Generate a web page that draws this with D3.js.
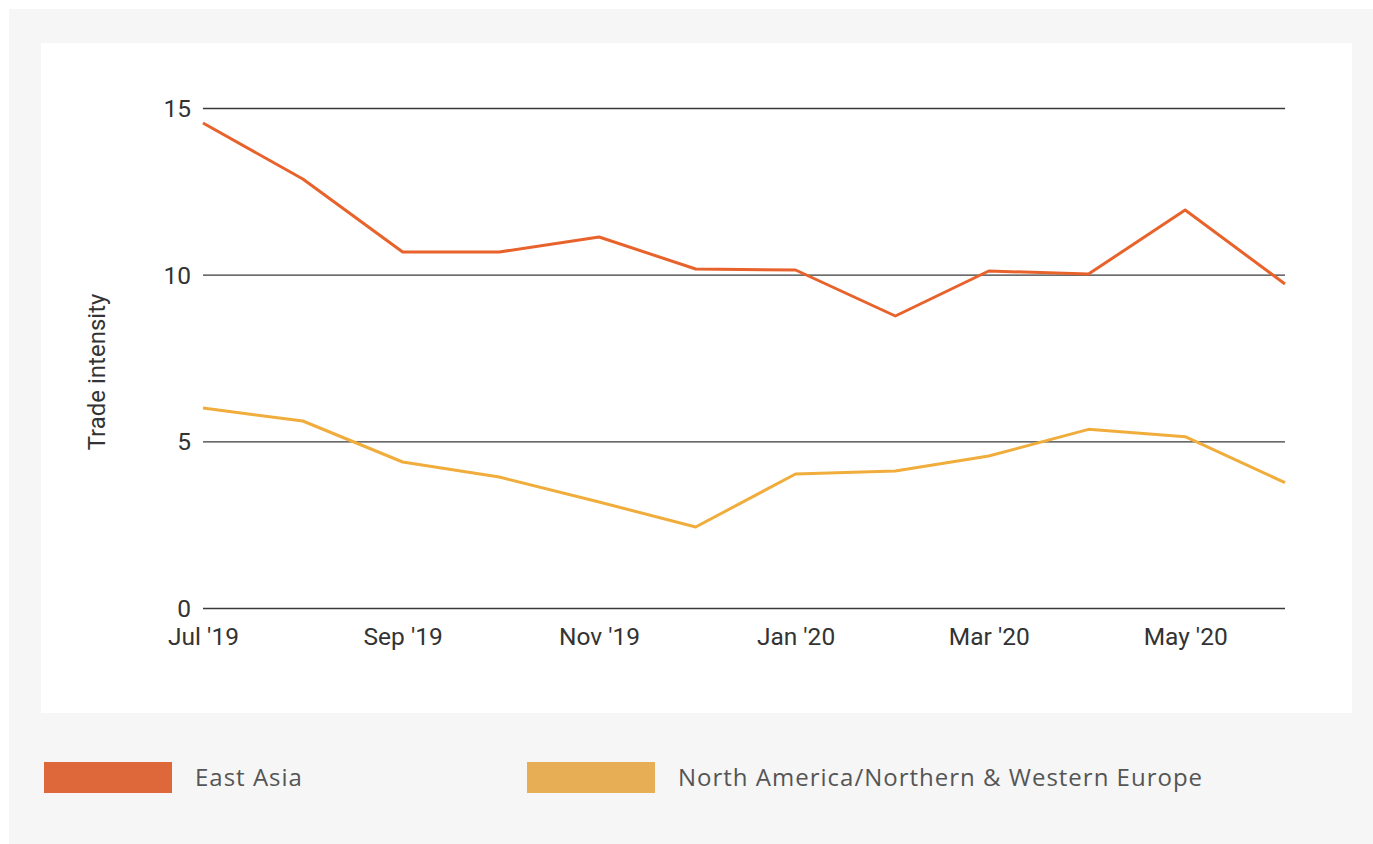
<!DOCTYPE html>
<html><head><meta charset="utf-8">
<script src="https://cdn.jsdelivr.net/npm/d3@7"></script>
<style>
html,body{margin:0;padding:0;background:#fff;}
svg{display:block;}
</style></head>
<body>
<svg id="chart" width="1373" height="844"></svg>
<script>
const months = ["2019-07","2019-08","2019-09","2019-10","2019-11","2019-12","2020-01","2020-02","2020-03","2020-04","2020-05","2020-06"];
const eastAsia = [14.55, 12.87, 10.68, 10.68, 11.13, 10.17, 10.14, 8.76, 10.11, 10.02, 11.94, 9.72];
const naEurope = [6.0, 5.61, 4.38, 3.93, 3.18, 2.43, 4.02, 4.11, 4.56, 5.36, 5.14, 3.76];
const seriesNames = ["East Asia", "North America/Northern & Western Europe"];
const yTicks = [0, 5, 10, 15];
const xTickLabels = ["Jul '19","Sep '19","Nov '19","Jan '20","Mar '20","May '20"];

const parse = d3.timeParse("%Y-%m");
const dates = months.map(parse);
const series = [
  {name: seriesNames[0], values: eastAsia, line: "#e8622c", swatch: "#de683a"},
  {name: seriesNames[1], values: naEurope, line: "#f0ad3c", swatch: "#e8ae55"}
];

const svg = d3.select("#chart");
svg.append("rect").attr("x",9).attr("y",9).attr("width",1364).attr("height",835).attr("fill","#f6f6f6");
svg.append("rect").attr("x",41).attr("y",43).attr("width",1311).attr("height",670).attr("fill","#ffffff");

const x = d3.scaleTime().domain([dates[0], dates[dates.length-1]]).range([203, 1285]);
const y = d3.scaleLinear().domain([0, 15]).range([608, 108]);

const g = svg.append("g");
const yAxis = d3.axisLeft(y).tickValues(yTicks).tickSize(0).tickPadding(12).tickFormat(d3.format("d"));
const ya = g.append("g").attr("transform","translate(203,0)").call(yAxis);
ya.select(".domain").remove();
ya.selectAll("text").attr("font-family","Roboto").attr("font-size",24.5).attr("fill","#333").attr("dy","0.35em");
ya.selectAll(".tick").append("line").attr("x1",0).attr("x2",1285-203).attr("stroke","#3a3a3a").attr("stroke-width",1.4);

const xTickDates = dates.filter((d,i)=> i%2===0);
const xAxis = d3.axisBottom(x).tickValues(xTickDates).tickSize(0).tickPadding(0)
  .tickFormat((d,i)=> xTickLabels[i]);
const xa = g.append("g").attr("transform","translate(0,608)").call(xAxis);
xa.select(".domain").remove();
xa.selectAll("text").attr("font-family","Roboto").attr("font-size",24.5).attr("fill","#333").attr("dy","0").attr("y",37);

g.append("text").attr("transform","translate(105,372) rotate(-90)").attr("text-anchor","middle")
  .attr("font-family","Roboto").attr("font-size",24).attr("fill","#333").text("Trade intensity");

const line = d3.line().x((d,i)=>x(dates[i])).y(d=>y(d));
series.forEach(s=>{
  g.append("path").datum(s.values).attr("d",line).attr("fill","none")
    .attr("stroke",s.line).attr("stroke-width",3).attr("stroke-linejoin","round");
});

const legX = [44, 527];
series.forEach((s,i)=>{
  const lg = svg.append("g").attr("transform",`translate(${legX[i]},762)`);
  lg.append("rect").attr("width",128).attr("height",31).attr("fill",s.swatch);
  lg.append("text").attr("x",151).attr("y",24).attr("font-family","Open Sans").attr("font-size",24)
    .attr("letter-spacing",1).attr("fill","#555").text(s.name);
});
</script>
</body></html>
